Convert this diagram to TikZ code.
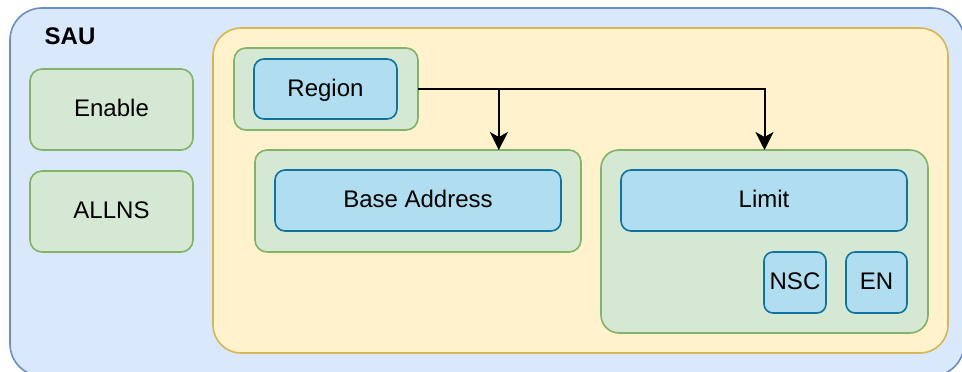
\documentclass[tikz,border=0pt]{standalone}
\usepackage{fontspec}
\setmainfont{Liberation Sans}
\usetikzlibrary{arrows.meta,calc}
\definecolor{ofill}{HTML}{DAE8FC}
\definecolor{odraw}{HTML}{6C8EBF}
\definecolor{yfill}{HTML}{FFF2CC}
\definecolor{ydraw}{HTML}{D6B656}
\definecolor{gfill}{HTML}{D5E8D4}
\definecolor{gdraw}{HTML}{82B366}
\definecolor{bfill}{HTML}{B1DDF0}
\definecolor{bdraw}{HTML}{10739E}
\begin{document}
\begin{tikzpicture}[x=1pt,y=-1pt,
  base/.style={draw, inner sep=0pt, outer sep=0pt, font=\fontsize{24}{28}\selectfont, text height=17pt, text depth=3pt},
  outerbox/.style={base, fill=ofill, draw=odraw, line width=1.6pt, rounded corners=32pt},
  yellowbox/.style={base, fill=yfill, draw=ydraw, line width=1.6pt, rounded corners=28pt},
  greenbox/.style={base, fill=gfill, draw=gdraw, line width=1.6pt, rounded corners=12pt},
  bluebox/.style={base, fill=bfill, draw=bdraw, line width=1.6pt, rounded corners=10pt},
  conn/.style={draw=black, line width=2pt, -{Stealth[length=18pt,width=18pt,inset=5pt]}}
]
\useasboundingbox (0,0) rectangle (962,372);
\clip (0,0) rectangle (962,372);
\node[outerbox, minimum width=954pt, minimum height=368pt] (sau) at (487,192) {};
\node[font=\fontsize{24}{28}\selectfont\bfseries, inner sep=0pt, text height=17pt, text depth=3pt] (saulabel) at (70,37) {SAU};
\node[greenbox, minimum width=163pt, minimum height=81pt] (enable) at (111.5,109.5) {Enable};
\node[greenbox, minimum width=163pt, minimum height=81pt] (allns) at (111.5,211.5) {ALLNS};
\node[yellowbox, minimum width=735pt, minimum height=325pt] (regions) at (580.5,190.5) {};
\node[greenbox, minimum width=184pt, minimum height=82pt] (regiong) at (326,89) {};
\node[bluebox, minimum width=143pt, minimum height=60pt] (region) at (325.5,89) {Region};
\node[greenbox, minimum width=326pt, minimum height=102pt] (baseg) at (418,201) {};
\node[bluebox, minimum width=286pt, minimum height=61pt] (baseaddr) at (418,200.5) {Base Address};
\node[greenbox, rounded corners=18pt, minimum width=327pt, minimum height=183pt] (limg) at (764.5,241.5) {};
\node[bluebox, minimum width=286pt, minimum height=61pt] (limit) at (764,200.5) {Limit};
\node[bluebox, rounded corners=9pt, minimum width=62pt, minimum height=61pt] (nsc) at (795,282.5) {NSC};
\node[bluebox, rounded corners=9pt, minimum width=61pt, minimum height=61pt] (en) at (876.5,282.5) {EN};
\coordinate (basetop) at ($(baseg.north west)!0.748!(baseg.north east)$);
\draw[conn] (regiong.east) -- (limg.north |- regiong.east) -- (limg.north);
\draw[conn] (basetop |- regiong.east) -- (basetop);
\end{tikzpicture}
\end{document}
